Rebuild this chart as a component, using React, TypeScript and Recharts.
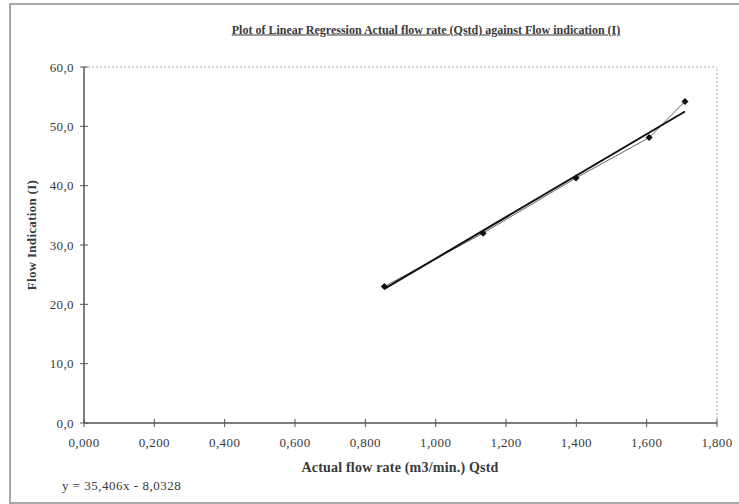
import React from 'react';
import { ComposedChart, Line, XAxis, YAxis, ReferenceLine } from 'recharts';

const flowRate = [0.854, 1.135, 1.399, 1.607, 1.709];
const indication = [23.0, 32.0, 41.3, 48.1, 54.2];

// trend line ends as drawn in the picture
const trendX = [0.854, 1.709];
const trendY = [22.6, 52.5];

const xTicks = [0, 0.2, 0.4, 0.6, 0.8, 1.0, 1.2, 1.4, 1.6, 1.8];
const yTicks = [0, 10, 20, 30, 40, 50, 60];

const measured = flowRate.map((x, i) => ({ x, y: indication[i] }));
const trend = trendX.map((x, i) => ({ x, y: trendY[i] }));

const FONT = '"Liberation Serif", "DejaVu Serif", serif';
const TEXT = '#3a3a3a';
const AXIS = '#555';

const fmtX = (v: number) => v.toFixed(3).replace('.', ',');
const fmtY = (v: number) => v.toFixed(1).replace('.', ',');

// Excel-style ticks that cross the axis
const YTick = (props: any) => {
    const { x, y, payload } = props;
    const ax = x + 8;
    return (
        <g>
            <line x1={ax - 4} x2={ax + 4} y1={y} y2={y} stroke={AXIS} />
            <text x={x - 2} y={y} dy={4.5} textAnchor="end" fontFamily={FONT} fontSize={13} letterSpacing={0.4} fill={TEXT}>
                {fmtY(payload.value)}
            </text>
        </g>
    );
};

const XTick = (props: any) => {
    const { x, y, payload } = props;
    const ay = y - 8;
    return (
        <g>
            <line x1={x} x2={x} y1={ay - 4} y2={ay + 4} stroke={AXIS} />
            <text x={x} y={y + 16} textAnchor="middle" fontFamily={FONT} fontSize={13} letterSpacing={0.4} fill={TEXT}>
                {fmtX(payload.value)}
            </text>
        </g>
    );
};

const Diamond = (props: any) => {
    const { cx, cy } = props;
    if (cx == null || cy == null) return null;
    const r = 3.5;
    return <path d={`M${cx},${cy - r}L${cx + r},${cy}L${cx},${cy + r}L${cx - r},${cy}Z`} fill="#111" />;
};

export default function App() {
    return (
        <div style={{ position: 'absolute', left: 0, top: 0, width: 739, height: 504, background: '#fff', overflow: 'hidden' }}>
            <div style={{ position: 'absolute', left: 9, top: 3, width: 740, height: 497, border: '2px solid #a8a8a8' }} />
            <div
                style={{
                    position: 'absolute', left: 426, top: 30, transform: 'translate(-50%, -50%)', whiteSpace: 'nowrap',
                    fontFamily: FONT, fontSize: 12, fontWeight: 'bold', color: TEXT, textDecoration: 'underline',
                }}
            >
                Plot of Linear Regression Actual flow rate (Qstd) against Flow indication (I)
            </div>
            <div
                style={{
                    position: 'absolute', left: 32, top: 235, transform: 'translate(-50%, -50%) rotate(-90deg)',
                    whiteSpace: 'nowrap', fontFamily: FONT, fontSize: 13, fontWeight: 'bold', color: TEXT, letterSpacing: 0.3,
                }}
            >
                Flow Indication (I)
            </div>
            <div
                style={{
                    position: 'absolute', left: 400, top: 468, transform: 'translate(-50%, -50%)',
                    whiteSpace: 'nowrap', fontFamily: FONT, fontSize: 14, fontWeight: 'bold', color: TEXT, letterSpacing: 0.2,
                }}
            >
                Actual flow rate (m3/min.) Qstd
            </div>
            <div
                style={{
                    position: 'absolute', left: 62, top: 486, transform: 'translateY(-50%)', whiteSpace: 'nowrap',
                    fontFamily: FONT, fontSize: 13, color: TEXT, letterSpacing: 0.5,
                }}
            >
                y = 35,406x - 8,0328
            </div>
            <ComposedChart
                width={739}
                height={504}
                margin={{ top: 67, right: 22, left: 0, bottom: 51 }}
                style={{ position: 'absolute', left: 0, top: 0 }}
            >
                <XAxis
                    type="number"
                    dataKey="x"
                    domain={[0, 1.8]}
                    ticks={xTicks}
                    interval={0}
                    allowDataOverflow
                    height={30}
                    tickSize={0}
                    tickMargin={8}
                    tickLine={false}
                    tick={<XTick />}
                    axisLine={{ stroke: AXIS, strokeWidth: 1.5 }}
                />
                <YAxis
                    type="number"
                    dataKey="y"
                    domain={[0, 60]}
                    ticks={yTicks}
                    interval={0}
                    width={84}
                    tickSize={0}
                    tickMargin={8}
                    tickLine={false}
                    tick={<YTick />}
                    axisLine={{ stroke: AXIS, strokeWidth: 1.5 }}
                />
                <ReferenceLine y={60} stroke="#aaa" strokeDasharray="2 2" />
                <ReferenceLine x={1.8} stroke="#aaa" strokeDasharray="2 2" />
                <Line
                    data={measured}
                    dataKey="y"
                    type="linear"
                    stroke="#666"
                    strokeWidth={1}
                    dot={<Diamond />}
                    activeDot={false}
                    isAnimationActive={false}
                />
                <Line
                    data={trend}
                    dataKey="y"
                    type="linear"
                    stroke="#111"
                    strokeWidth={2}
                    dot={false}
                    activeDot={false}
                    isAnimationActive={false}
                />
            </ComposedChart>
        </div>
    );
}
